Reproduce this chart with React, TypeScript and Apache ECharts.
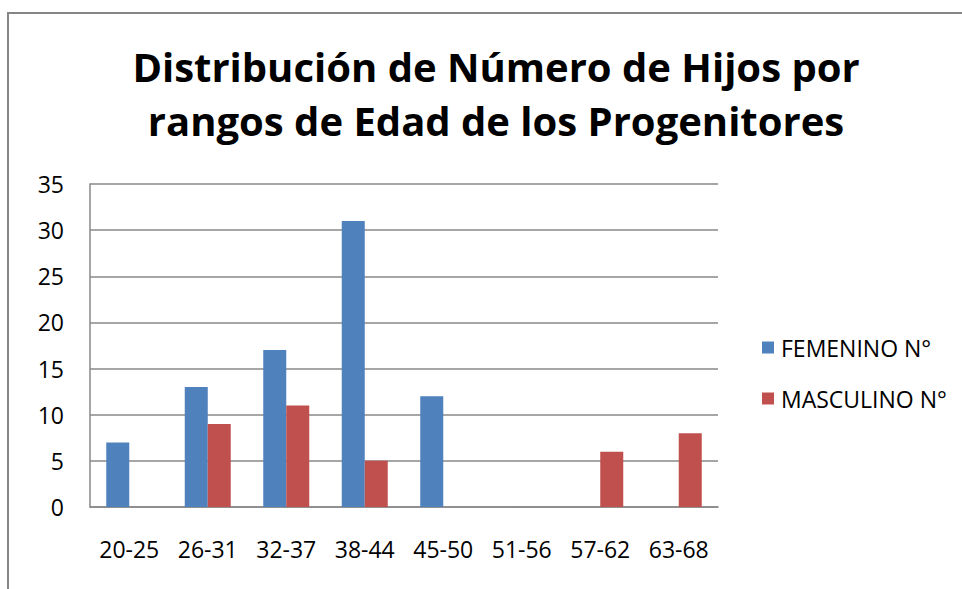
import React, { useEffect, useRef } from "react";
import * as echarts from "echarts";

const categories = ["20-25", "26-31", "32-37", "38-44", "45-50", "51-56", "57-62", "63-68"];
const femenino = [7, 13, 17, 31, 12, 0, 0, 0];
const masculino = [0, 9, 11, 5, 0, 0, 6, 8];
const seriesNames = ["FEMENINO N°", "MASCULINO N°"];
const titleText = "Distribución de Número de Hijos por\nrangos de Edad de los Progenitores";

export default function App() {
  const ref = useRef<HTMLDivElement>(null);
  useEffect(() => {
    if (!ref.current) return;
    const chart = echarts.init(ref.current, null, { renderer: "svg" });
    const font = "'Open Sans', sans-serif";
    chart.setOption({
      animation: false,
      backgroundColor: "#ffffff",
      title: {
        text: titleText,
        left: 491,
        textAlign: "center",
        top: 34,
        textStyle: {
          fontFamily: font,
          fontWeight: "bold",
          fontSize: 40,
          lineHeight: 54,
          color: "#000000",
        },
      },
      graphic: [
        {
          type: "rect",
          shape: { x: 8, y: 13, width: 1200, height: 1200 },
          style: { fill: "none", stroke: "#868686", lineWidth: 2 },
          silent: true,
        },
      ],
      legend: {
        orient: "vertical",
        left: 757,
        top: 331,
        itemWidth: 12,
        itemHeight: 12,
        itemGap: 28,
        icon: "rect",
        textStyle: { fontFamily: font, fontSize: 23, color: "#000000", padding: [0, 0, 0, 2] },
        data: seriesNames,
      },
      grid: { left: 90, right: 244, top: 184, bottom: 82, containLabel: false },
      xAxis: {
        type: "category",
        data: categories,
        axisLine: { show: true, lineStyle: { color: "#888888", width: 1.5 } },
        axisTick: { show: false },
        axisLabel: { fontFamily: font, fontSize: 23, color: "#000000", margin: 30, interval: 0 },
      },
      yAxis: {
        type: "value",
        min: 0,
        max: 35,
        interval: 5,
        axisLine: { show: true, lineStyle: { color: "#888888", width: 1.5 } },
        axisTick: { show: false },
        axisLabel: { fontFamily: font, fontSize: 23, color: "#000000", margin: 26 },
        splitLine: { show: true, lineStyle: { color: "#888888", width: 1.5 } },
      },
      series: [
        {
          name: seriesNames[0],
          type: "bar",
          data: femenino,
          barWidth: 23,
          barGap: "0%",
          itemStyle: { color: "#4F81BD" },
        },
        {
          name: seriesNames[1],
          type: "bar",
          data: masculino,
          barWidth: 23,
          barGap: "0%",
          itemStyle: { color: "#C0504D" },
        },
      ],
    });
    return () => chart.dispose();
  }, []);
  return (
    <div
      ref={ref}
      style={{ position: "absolute", left: 0, top: 0, width: 962, height: 589 }}
    />
  );
}
